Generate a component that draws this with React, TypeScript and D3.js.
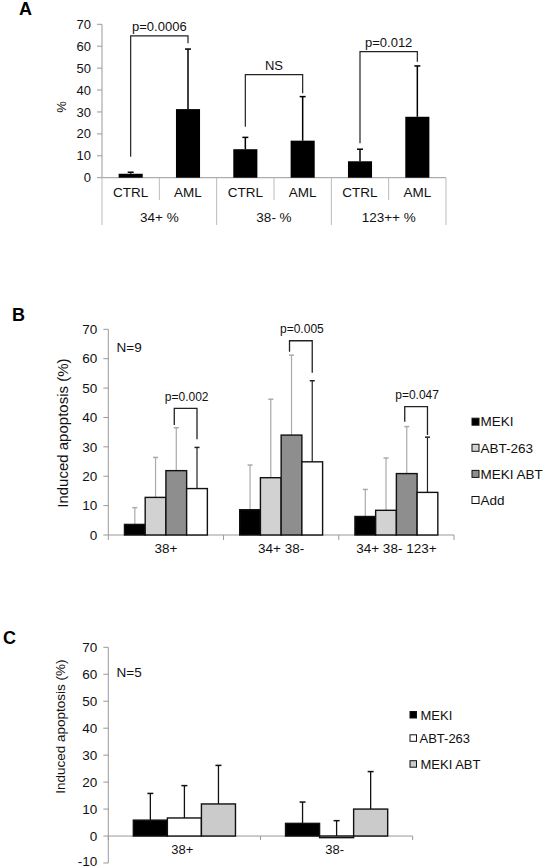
import React from "react";
import * as d3 from "d3";

// ---------- Panel A data ----------
const aGroups = ["34+ %", "38- %", "123++ %"];
const aSubs = ["CTRL", "AML"];
const aMeans = [1.8, 31.3, 13.0, 16.9, 7.5, 27.8];
const aErrs = [0.7, 27.4, 5.4, 20.1, 5.5, 23.2];
const aTicks = [0, 10, 20, 30, 40, 50, 60, 70];
const aBracketLabels = ["p=0.0006", "NS", "p=0.012"];
const aBracketTop = [64.7, 47.0, 57.5];
const aBracketLeftEnd = [9.6, 23.3, 15.7];
const aBracketRightEnd = [61.3, 38.5, 52.9];

// ---------- Panel B data ----------
const bCategories = ["38+", "34+ 38-", "34+ 38- 123+"];
const bSeries = ["MEKI", "ABT-263", "MEKI ABT", "Add"];
const bMeki = [3.6, 8.6, 6.3];
const bMekiErr = [5.7, 15.2, 9.2];
const bAbt = [12.8, 19.5, 8.4];
const bAbtErr = [13.6, 26.7, 17.8];
const bMekiAbt = [21.9, 34.0, 20.9];
const bMekiAbtErr = [14.6, 27.2, 16.0];
const bAdd = [15.8, 24.9, 14.5];
const bAddErr = [14.0, 27.6, 18.8];
const bTicks = [0, 10, 20, 30, 40, 50, 60, 70];
const bBracketLabels = ["p=0.002", "p=0.005", "p=0.047"];
const bBracketTop = [43.1, 66.1, 43.7];
const bBracketLeftEnd = [37.4, 62.4, 38.5];
const bBracketRightEnd = [32.6, 55.2, 34.0];

// ---------- Panel C data ----------
const cCategories = ["38+", "38-"];
const cSeries = ["MEKI", "ABT-263", "MEKI ABT"];
const cMeki = [5.9, 4.7];
const cMekiErr = [9.9, 7.9];
const cAbt = [6.7, -0.6];
const cAbtErr = [12.0, 6.3];
const cMekiAbt = [11.9, 10.0];
const cMekiAbtErr = [14.3, 13.9];
const cTicks = [-10, 0, 10, 20, 30, 40, 50, 60, 70];

const FONT = "'Liberation Sans', Arial, sans-serif";
const AXIS = "#999";
const TXT = "#111";

function PanelA() {
  const y = d3.scaleLinear().domain([0, 70]).range([177.7, 24.3]);
  const xg = d3.scaleBand().domain(aGroups).range([102, 446]).padding(0);
  const xs = d3.scaleBand().domain(aSubs).range([0, xg.bandwidth()]).paddingInner(0.58).paddingOuter(0.29);
  const cx = (gi: number, si: number) => xg(aGroups[gi])! + xs(aSubs[si])! + xs.bandwidth() / 2;
  const x0 = 102, x1 = 446;
  return (
    <g fontFamily={FONT}>
      <text x={19} y={15} fontSize={18} fontWeight="bold" fill="#000">A</text>
      <line x1={x0} x2={x0} y1={y(70)} y2={y(0)} stroke={AXIS} />
      {aTicks.map((t) => (
        <g key={t}>
          <line x1={x0 - 5} x2={x0} y1={y(t)} y2={y(t)} stroke={AXIS} />
          <text x={x0 - 11} y={y(t)} dy="0.35em" textAnchor="end" fontSize={13} fill={TXT}>{t}</text>
        </g>
      ))}
      <text transform={`translate(66,${107}) rotate(-90)`} textAnchor="middle" fontSize={13} fill={TXT}>%</text>
      <line x1={x0} x2={x1} y1={y(0)} y2={y(0)} stroke={AXIS} />
      {aGroups.map((g, gi) => {
        const gx = xg(g)!;
        return (
          <g key={g}>
            <line x1={gx} x2={gx} y1={y(0)} y2={225} stroke="#bbb" />
            <line x1={gx + xg.bandwidth() / 2} x2={gx + xg.bandwidth() / 2} y1={y(0)} y2={200} stroke="#bbb" />
            <text x={gx + xg.bandwidth() / 2} y={221.5} textAnchor="middle" fontSize={13.5} fill={TXT}>{g}</text>
            {aSubs.map((s, si) => {
              const i = gi * 2 + si;
              const c = cx(gi, si);
              const w = xs.bandwidth();
              return (
                <g key={s}>
                  <text x={c} y={197} textAnchor="middle" fontSize={13.5} fill={TXT}>{s}</text>
                  <rect x={c - w / 2} y={y(aMeans[i])} width={w} height={y(0) - y(aMeans[i])} fill="#000" />
                  <line x1={c} x2={c} y1={y(aMeans[i])} y2={y(aMeans[i] + aErrs[i])} stroke="#000" strokeWidth={1.5} />
                  <line x1={c - 3} x2={c + 3} y1={y(aMeans[i] + aErrs[i])} y2={y(aMeans[i] + aErrs[i])} stroke="#000" strokeWidth={1.5} />
                </g>
              );
            })}
            {(() => {
              const l = cx(gi, 0), r = cx(gi, 1);
              const top = y(aBracketTop[gi]);
              return (
                <g>
                  <path d={`M${l},${y(aBracketLeftEnd[gi])}V${top}H${r}V${y(aBracketRightEnd[gi])}`} fill="none" stroke="#222" strokeWidth={1.2} />
                  <text x={(l + r) / 2} y={top - 5} textAnchor="middle" fontSize={13} fill={TXT}>{aBracketLabels[gi]}</text>
                </g>
              );
            })()}
          </g>
        );
      })}
      <line x1={x1} x2={x1} y1={y(0)} y2={225} stroke="#bbb" />
    </g>
  );
}

function PanelB() {
  const y = d3.scaleLinear().domain([0, 70]).range([535, 329.3]);
  const x0 = 108.3, x1 = 454;
  const xg = d3.scaleBand().domain(bCategories).range([x0, x1]);
  const xs = d3.scaleBand().domain(bSeries).range([0, xg.bandwidth()]).paddingInner(0).paddingOuter(0.78);
  const vals = [bMeki, bAbt, bMekiAbt, bAdd];
  const errs = [bMekiErr, bAbtErr, bMekiAbtErr, bAddErr];
  const fills = ["#000", "#d2d2d2", "#8e8e8e", "#fff"];
  const errColors = ["#aaa", "#aaa", "#aaa", "#222"];
  const w = xs.bandwidth();
  return (
    <g fontFamily={FONT}>
      <text x={12} y={321} fontSize={18} fontWeight="bold" fill="#000">B</text>
      <line x1={x0} x2={x0} y1={y(70)} y2={y(0)} stroke={AXIS} />
      {bTicks.map((t) => (
        <g key={t}>
          <line x1={x0 - 5} x2={x0} y1={y(t)} y2={y(t)} stroke={AXIS} />
          <text x={x0 - 11} y={y(t)} dy="0.35em" textAnchor="end" fontSize={13.5} fill={TXT}>{t}</text>
        </g>
      ))}
      <text transform={`translate(68,${y(35) + 1}) rotate(-90)`} textAnchor="middle" fontSize={15} fill={TXT}>Induced apoptosis (%)</text>
      <text x={116.5} y={351.7} fontSize={13.5} fill={TXT}>N=9</text>
      <line x1={x0} x2={x1} y1={y(0)} y2={y(0)} stroke={AXIS} />
      {[x0, ...bCategories.map((c) => xg(c)! + xg.bandwidth())].map((xx, i) => (
        <line key={i} x1={xx} x2={xx} y1={y(0)} y2={y(0) + 5} stroke={AXIS} />
      ))}
      {bCategories.map((c, ci) => {
        const gx = xg(c)!;
        const center = (si: number) => gx + xs(bSeries[si])! + w / 2;
        const l = center(2), r = center(3);
        const top = y(bBracketTop[ci]);
        return (
          <g key={c}>
            <text x={gx + xg.bandwidth() / 2} y={553.3} textAnchor="middle" fontSize={13.5} fill={TXT}>{c}</text>
            {bSeries.map((s, si) => {
              const v = vals[si][ci], e = errs[si][ci];
              const cc = center(si);
              return (
                <g key={s}>
                  <line x1={cc} x2={cc} y1={y(v)} y2={y(v + e)} stroke={errColors[si]} strokeWidth={1.2} />
                  <line x1={cc - 2.5} x2={cc + 2.5} y1={y(v + e)} y2={y(v + e)} stroke={errColors[si]} strokeWidth={1.5} />
                  <rect x={cc - w / 2} y={y(v)} width={w} height={y(0) - y(v)} fill={fills[si]} stroke="#111" strokeWidth={1.4} />
                </g>
              );
            })}
            <path d={`M${l - 2},${y(bBracketLeftEnd[ci])}V${top}H${r}V${y(bBracketRightEnd[ci])}`} fill="none" stroke="#222" strokeWidth={1.3} />
            <text x={(l + r) / 2} y={top - 7.5} textAnchor="middle" fontSize={12} fill={TXT}>{bBracketLabels[ci]}</text>
          </g>
        );
      })}
      {bSeries.map((s, si) => (
        <g key={s} transform={`translate(472,${421.7 + si * 26.1})`}>
          <rect x={0} y={-3.5} width={7} height={7} fill={fills[si]} stroke="#111" strokeWidth={1} />
          <text x={8.5} y={0} dy="0.35em" fontSize={13.5} fill={TXT}>{s}</text>
        </g>
      ))}
    </g>
  );
}

function PanelC() {
  const y = d3.scaleLinear().domain([-10, 70]).range([863, 647.3]);
  const x0 = 108.3, x1 = 412.7;
  const xg = d3.scaleBand().domain(cCategories).range([x0, x1]);
  const xs = d3.scaleBand().domain(cSeries).range([0, xg.bandwidth()]).paddingInner(0).paddingOuter(0.735);
  const vals = [cMeki, cAbt, cMekiAbt];
  const errs = [cMekiErr, cAbtErr, cMekiAbtErr];
  const fills = ["#000", "#fff", "#cbcbcb"];
  const w = xs.bandwidth();
  return (
    <g fontFamily={FONT}>
      <text x={3} y={644} fontSize={18} fontWeight="bold" fill="#000">C</text>
      <line x1={x0} x2={x0} y1={y(70)} y2={y(-10)} stroke={AXIS} />
      {cTicks.map((t) => (
        <g key={t}>
          <line x1={x0 - 5} x2={x0} y1={y(t)} y2={y(t)} stroke={AXIS} />
          <text x={x0 - 11} y={t === -10 ? y(t) - 1.5 : y(t)} dy="0.35em" textAnchor="end" fontSize={13.5} fill={TXT}>{t}</text>
        </g>
      ))}
      <text transform={`translate(65,${726.7}) rotate(-90)`} textAnchor="middle" fontSize={13.5} fill={TXT}>Induced apoptosis (%)</text>
      <text x={116.5} y={677.3} fontSize={13.5} fill={TXT}>N=5</text>
      <line x1={x0} x2={x1} y1={y(0)} y2={y(0)} stroke={AXIS} />
      {[x0, ...cCategories.map((c) => xg(c)! + xg.bandwidth())].map((xx, i) => (
        <line key={i} x1={xx} x2={xx} y1={y(0)} y2={y(0) + 4} stroke={AXIS} />
      ))}
      {cCategories.map((c, ci) => {
        const gx = xg(c)!;
        return (
          <g key={c}>
            <text x={gx + xg.bandwidth() / 2 - 2} y={854} textAnchor="middle" fontSize={13} fill={TXT}>{c}</text>
            {cSeries.map((s, si) => {
              const v = vals[si][ci], e = errs[si][ci];
              const cc = gx + xs(s)! + w / 2;
              const top = Math.min(y(v), y(0));
              const h = Math.abs(y(v) - y(0));
              return (
                <g key={s}>
                  <line x1={cc} x2={cc} y1={y(v)} y2={y(v + e)} stroke="#111" strokeWidth={1.3} />
                  <line x1={cc - 3} x2={cc + 3} y1={y(v + e)} y2={y(v + e)} stroke="#111" strokeWidth={1.5} />
                  <rect x={cc - w / 2} y={top} width={w} height={Math.max(h, 1)} fill={fills[si]} stroke="#111" strokeWidth={1.4} />
                </g>
              );
            })}
          </g>
        );
      })}
      {cSeries.map((s, si) => (
        <g key={s} transform={`translate(410,${715 + si * (si === 2 ? 24.6 : 23.3)})`}>
          <rect x={0} y={-3.5} width={6.5} height={6.5} fill={fills[si]} stroke="#111" strokeWidth={1} />
          <text x={si === 1 ? 9.5 : 10.5} y={0} dy="0.35em" fontSize={13} fill={TXT}>{s}</text>
        </g>
      ))}
    </g>
  );
}

export default function App() {
  return (
    <svg width={545} height={868} style={{ position: "absolute", left: 0, top: 0, background: "#fff" }}>
      <rect width={545} height={868} fill="#fff" />
      <PanelA />
      <PanelB />
      <PanelC />
    </svg>
  );
}
